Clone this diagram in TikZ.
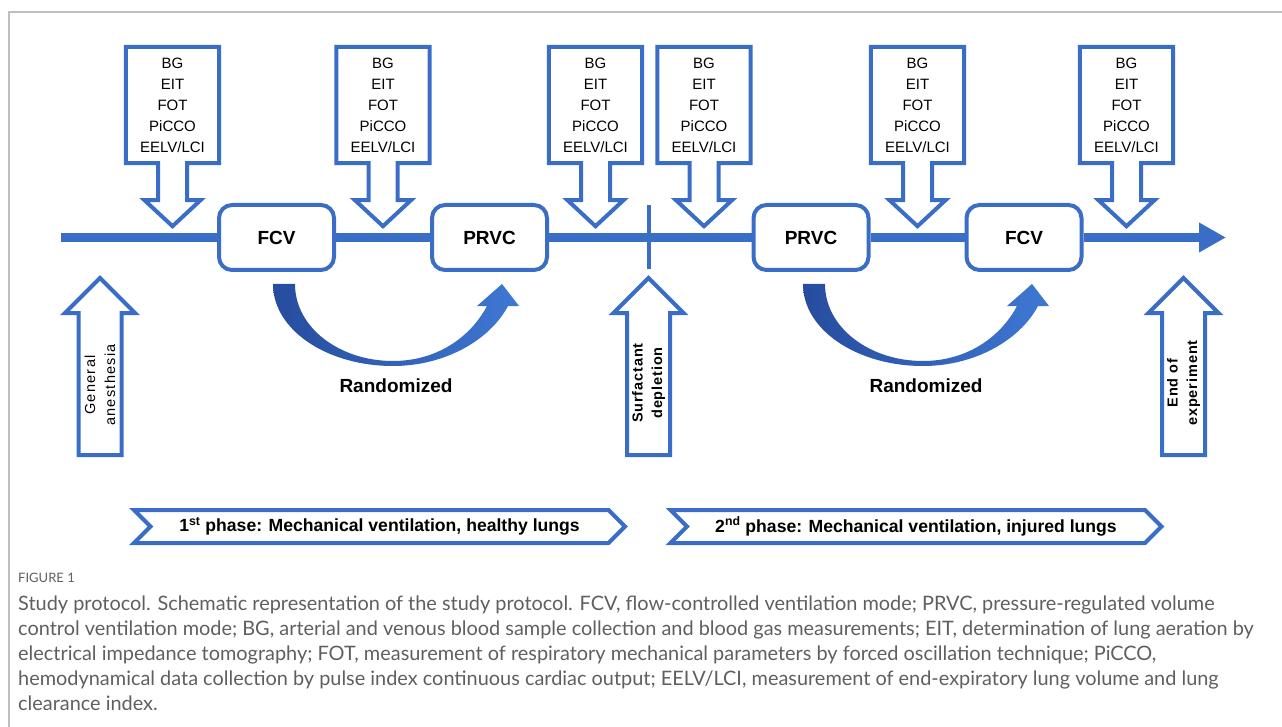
\documentclass[tikz,border=0pt]{standalone}
\usepackage{fontspec}
\setmainfont{Liberation Sans}
\newfontfamily\capfont{Lato}
\usetikzlibrary{arrows.meta,shapes.symbols,positioning}

\definecolor{protoblue}{RGB}{58,110,198}
\definecolor{sweepdark}{RGB}{38,76,158}
\definecolor{sweeplight}{RGB}{62,120,212}
\definecolor{framegray}{RGB}{190,190,190}
\definecolor{capgray}{RGB}{95,95,95}

\begin{document}
\begin{tikzpicture}[x=1pt, y=-1pt,
    outl/.style = {draw=protoblue, line width=4pt, line join=miter},
    mode/.style = {draw=protoblue, line width=4pt, fill=white, rounded corners=13pt,
                   minimum width=115pt, minimum height=65pt, inner sep=0pt,
                   font=\fontsize{19}{19}\selectfont\bfseries},
    meas/.style = {minimum width=93pt, minimum height=116pt, inner sep=0pt, align=center,
                   font=\fontsize{15}{21}\selectfont},
    event/.style = {rotate=90, align=center, inner sep=0pt,
                    font=\fontsize{14.5}{19.5}\selectfont\bfseries\addfontfeature{LetterSpace=6}},
    phase/.style = {signal, signal to=east, signal from=west, draw=protoblue, line width=4pt,
                    minimum width=491pt, minimum height=33pt, inner sep=0pt,
                    font=\fontsize{17.6}{17.6}\selectfont\bfseries},
    rand/.style = {font=\fontsize{19}{19}\selectfont\bfseries},
    tl/.style = {protoblue, line width=9pt}]

\useasboundingbox (0,0) rectangle (1282,727);
\draw[framegray, line width=1.2pt] (9,727) -- (9,12) -- (1282,12);

% ventilation modes on the time line
\node[mode] (fcv1) at (276.5,237.5) {FCV};
\node[mode] (prvc1) at (489.5,237.5) {PRVC};
\node[mode] (prvc2) at (811,237.5) {PRVC};
\node[mode] (fcv2) at (1024,237.5) {FCV};
\coordinate (tstart) at (61,237.5);
\coordinate (tend) at (1226,237.5);
\draw[tl, -{Triangle[length=27pt,width=28pt]}] (tstart) -- (fcv1) -- (prvc1) -- (prvc2) -- (fcv2) -- (tend);

% lavage mark
\coordinate (cut1) at (648.5,205);
\coordinate (cut2) at (648.5,269);
\draw[protoblue, line width=4pt] (cut1) -- (cut2);

% measurement points
\node[meas] (m1) at (172.5,105) {BG\\EIT\\FOT\\PiCCO\\EELV/LCI};
\node[meas] (m2) at (383,105) {BG\\EIT\\FOT\\PiCCO\\EELV/LCI};
\node[meas] (m3) at (595.5,105) {BG\\EIT\\FOT\\PiCCO\\EELV/LCI};
\node[meas] (m4) at (704,105) {BG\\EIT\\FOT\\PiCCO\\EELV/LCI};
\node[meas] (m5) at (917.5,105) {BG\\EIT\\FOT\\PiCCO\\EELV/LCI};
\node[meas] (m6) at (1126.5,105) {BG\\EIT\\FOT\\PiCCO\\EELV/LCI};
\foreach \m in {m1,m2,m3,m4,m5,m6}
  \draw[outl] ([xshift=-14.5pt]\m.south) -- (\m.south west) -- (\m.north west) -- (\m.north east)
    -- (\m.south east) -- ([xshift=14.5pt]\m.south) -- ++(0,37) -- ++(13.5,0) -- ++(-28,26)
    -- ++(-28,-26) -- ++(13.5,0) -- cycle;

% events
\node[event, font=\fontsize{14.5}{20}\selectfont\addfontfeature{LetterSpace=9}] (ga) at (100,385) {General\\anesthesia};
\node[event] (sd) at (648.5,383) {Surfactant\\depletion};
\node[event] (ee) at (1183.5,383) {End of\\experiment};
\foreach \x in {100,648.5,1183.5}
  \draw[outl] (\x-21.5,455) -- (\x-21.5,313) -- (\x-35,313) -- (\x,278) -- (\x+35,313)
    -- (\x+21.5,313) -- (\x+21.5,455) -- cycle;

% randomized order
\foreach \dx in {0,530}
  \shade[left color=sweepdark, right color=sweeplight, xshift=\dx]
    (273,284) .. controls (273,330) and (327,366) .. (393,366)
    .. controls (445,366) and (490,340) .. (508,306) -- (519,306) -- (502,284) -- (477,306)
    -- (487,306) .. controls (470,338) and (436,361) .. (393,361)
    .. controls (340,361) and (295,328) .. (295,284) -- cycle;
\node[rand] (r1) at (396,386) {Randomized};
\node[rand] (r2) at (926,386) {Randomized};

% phases
\node[phase] (ph1) at (379.5,526.5) {1\textsuperscript{st} phase: Mechanical ventilation, healthy lungs};
\node[phase] (ph2) at (916,526.5) {2\textsuperscript{nd} phase: Mechanical ventilation, injured lungs};

% caption
\node[anchor=west, inner sep=0pt, text=capgray, font=\capfont\fontsize{13}{13}\selectfont] (fig) at (18,578) {FIGURE 1};
\node[anchor=north west, inner sep=0pt, align=left, text=capgray,
      font=\capfont\fontsize{19.9}{25}\selectfont] (cap) at (18,596)
  {Study protocol. Schematic representation of the study protocol. FCV, flow-controlled ventilation mode; PRVC, pressure-regulated volume\\
   control ventilation mode; BG, arterial and venous blood sample collection and blood gas measurements; EIT, determination of lung aeration by\\
   electrical impedance tomography; FOT, measurement of respiratory mechanical parameters by forced oscillation technique; PiCCO,\\
   hemodynamical data collection by pulse index continuous cardiac output; EELV/LCI, measurement of end-expiratory lung volume and lung\\
   clearance index.};
\end{tikzpicture}
\end{document}
